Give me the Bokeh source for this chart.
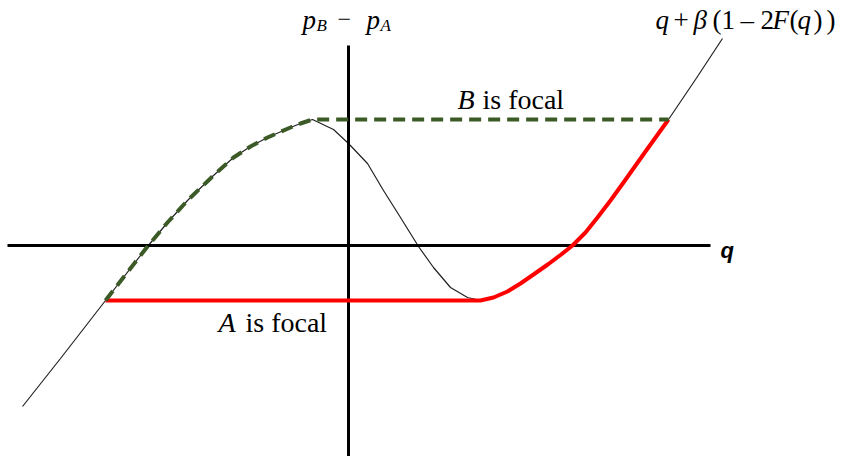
from bokeh.plotting import figure
from bokeh.models import ColumnDataSource, Range1d
from bokeh.core.properties import value
from bokeh.embed import file_html
from bokeh.resources import INLINE

# ---- data ----
q = [-3.26, -2.88, -2.43, -2.01, -1.81, -1.61, -1.35, -1.15, -0.98, -0.81,
     -0.58, -0.48, -0.36, -0.15, 0.00, 0.19, 0.35, 0.52, 0.70, 0.85,
     1.02, 1.19, 1.32, 1.45, 1.59, 1.72, 1.85, 2.00, 2.12, 2.24,
     2.37, 2.49, 2.62, 2.75, 2.97, 3.20, 3.47, 3.74]
curve = [-1.61, -1.13, -0.55, -0.01, 0.23, 0.45, 0.70, 0.88, 0.99, 1.08,
         1.18, 1.22, 1.26, 1.16, 1.02, 0.82, 0.55, 0.28, -0.01, -0.22,
         -0.42, -0.52, -0.55, -0.52, -0.46, -0.38, -0.29, -0.185, -0.095, 0.00,
         0.13, 0.28, 0.45, 0.63, 0.94, 1.26, 1.66, 2.07]
q_left = -2.43      # left end of both focal regimes
q_peak = -0.36      # local maximum
q_min = 1.32        # local minimum
q_right = 3.20      # right end of both focal regimes
a_level = -0.55
b_level = 1.26

# axes extents
x_axis = [-3.41, 3.62]
y_axis = [2.00, -2.12]

# ---- derived series ----
green_x = [x for x in q if q_left <= x <= q_peak] + [q_right]
green_y = [y for x, y in zip(q, curve) if q_left <= x <= q_peak] + [b_level]
red_x = [q_left] + [x for x in q if q_min <= x <= q_right]
red_y = [a_level] + [y for x, y in zip(q, curve) if q_min <= x <= q_right]

W, H = 840, 456
p = figure(width=W, height=H, output_backend="svg", toolbar_location=None,
           x_range=Range1d(-3.48, -3.48 + W / 100), y_range=Range1d(2.45 - H / 100, 2.45),
           min_border=0, min_border_left=0, min_border_right=0,
           min_border_top=0, min_border_bottom=0)
p.axis.visible = False
p.xgrid.visible = False
p.ygrid.visible = False
p.outline_line_color = None
p.background_fill_color = "white"
p.border_fill_color = "white"

# the function (thin), under the regime lines
p.line(q, curve, line_color="#222222", line_width=1.2)

# coordinate axes
p.line(x_axis, [0, 0], line_color="black", line_width=3)
p.line([0, 0], y_axis, line_color="black", line_width=3)

# regimes
p.line(red_x, red_y, line_color="#FF0000", line_width=4)
p.line(green_x, green_y, line_color="#3B5A26", line_width=4, line_dash="12 7")

serif = value("Liberation Serif")

# text pieces (text, x, y, style, size)
pieces = dict(
    text=["p", "B", "\u2212", "p", "A",
          "q", "+", "\u03b2", "(", "1", "\u2013", "2", "F", "(", "q", ")", ")",
          "B", "is focal", "A", "is focal"],
    x=[-0.46, -0.32, -0.11, 0.18, 0.32,
       3.07, 3.25, 3.45, 3.64, 3.73, 3.92, 4.12, 4.24, 4.41, 4.49, 4.65, 4.78,
       1.09, 1.34, -1.30, -1.03],
    y=[2.26, 2.20, 2.26, 2.26, 2.20,
       2.26, 2.26, 2.26, 2.26, 2.26, 2.26, 2.26, 2.26, 2.26, 2.26, 2.26, 2.26,
       1.46, 1.46, -0.77, -0.77],
    style=["italic", "italic", "normal", "italic", "italic",
           "italic", "normal", "italic", "normal", "normal", "normal", "normal",
           "italic", "normal", "italic", "normal", "normal",
           "italic", "normal", "italic", "normal"],
    size=["27px", "17px", "24px", "27px", "17px",
          "27px", "27px", "27px", "27px", "27px", "27px", "27px", "27px",
          "27px", "27px", "27px", "27px",
          "28px", "28px", "28px", "28px"],
)
src = ColumnDataSource(pieces)
p.text(x="x", y="y", text="text", source=src, text_font=serif,
       text_font_style="style", text_font_size="size",
       text_align="left", text_baseline="alphabetic", text_color="black")

# q axis label
p.text(x=[3.72], y=[-0.05], text=["q"], text_font=value("Liberation Sans"),
       text_font_style="bold italic", text_font_size="22px",
       text_align="left", text_baseline="alphabetic", text_color="black")

open("out.html", "w").write(file_html(p, INLINE))
